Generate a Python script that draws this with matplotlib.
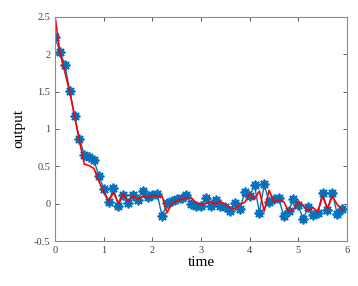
import numpy as np
import matplotlib
matplotlib.use("Agg")
import matplotlib.pyplot as plt

# sample times (step 0.1)
time = np.round(np.arange(0, 6.0, 0.1), 1)

# measured output (blue stars)
measured = [2.23, 2.03, 1.86, 1.51, 1.17, 0.87, 0.65, 0.63, 0.58, 0.37,
            0.20, 0.02, 0.21, -0.03, 0.12, 0.01, 0.12, 0.05, 0.17, 0.09,
            0.12, 0.13, -0.17, 0.01, 0.03, 0.06, 0.07, 0.12, 0.00, -0.03,
            -0.03, 0.08, -0.03, 0.05, -0.03, -0.05, -0.10, 0.01, -0.07, 0.16,
            0.10, 0.25, -0.12, 0.26, 0.02, 0.06, 0.07, -0.16, -0.10, 0.06,
            -0.02, -0.21, -0.05, -0.15, -0.13, 0.15, -0.08, 0.15, -0.14, -0.07]

# estimated output (red line)
estimated = [2.50, 2.02, 1.76, 1.50, 1.17, 0.84, 0.53, 0.51, 0.47, 0.30,
             0.15, 0.03, 0.15, 0.01, 0.13, 0.03, 0.10, 0.06, 0.10, 0.08,
             0.11, 0.10, 0.10, -0.12, 0.00, 0.04, 0.06, 0.08, 0.08, 0.01,
             -0.01, 0.00, 0.03, -0.01, 0.03, -0.01, -0.05, -0.07, -0.01, 0.02,
             0.13, 0.06, 0.17, -0.10, 0.18, 0.02, 0.05, 0.03, -0.10, -0.08,
             0.03, -0.02, -0.10, -0.05, -0.11, 0.10, -0.07, 0.10, -0.01, -0.08]

xticks = [0, 1, 2, 3, 4, 5, 6]
yticks = [-0.5, 0, 0.5, 1, 1.5, 2, 2.5]
ytick_labels = ["-0.5", "0", "0.5", "1", "1.5", "2", "2.5"]

plt.rcParams['font.family'] = ['Liberation Serif', 'DejaVu Serif']

fig = plt.figure(figsize=(3.58, 2.86), dpi=100)
ax = fig.add_axes([0.154, 0.157, 0.815, 0.784])

# matlab style asterisk marker (8 spokes)
ax.plot(time, measured, '-', color='#0072BD', lw=1.0, marker=(8, 2, 0),
        ms=7, mew=1.3)
ax.plot(time, estimated, '-', color='#FF0000', lw=1.2)

ax.set_xlim(0, 6)
ax.set_ylim(-0.5, 2.5)
ax.set_xticks(xticks)
ax.set_yticks(yticks)
ax.set_yticklabels(ytick_labels)
ax.tick_params(direction='in', length=3, width=0.6, labelsize=7.5,
               colors='#404040', top=True, right=True)
for s in ax.spines.values():
    s.set_color('#8c8c8c')
    s.set_linewidth(0.8)

ax.set_xlabel('time', fontsize=11, labelpad=1)
ax.set_ylabel('output', fontsize=11, labelpad=6)

fig.savefig('out.png', dpi=100)
